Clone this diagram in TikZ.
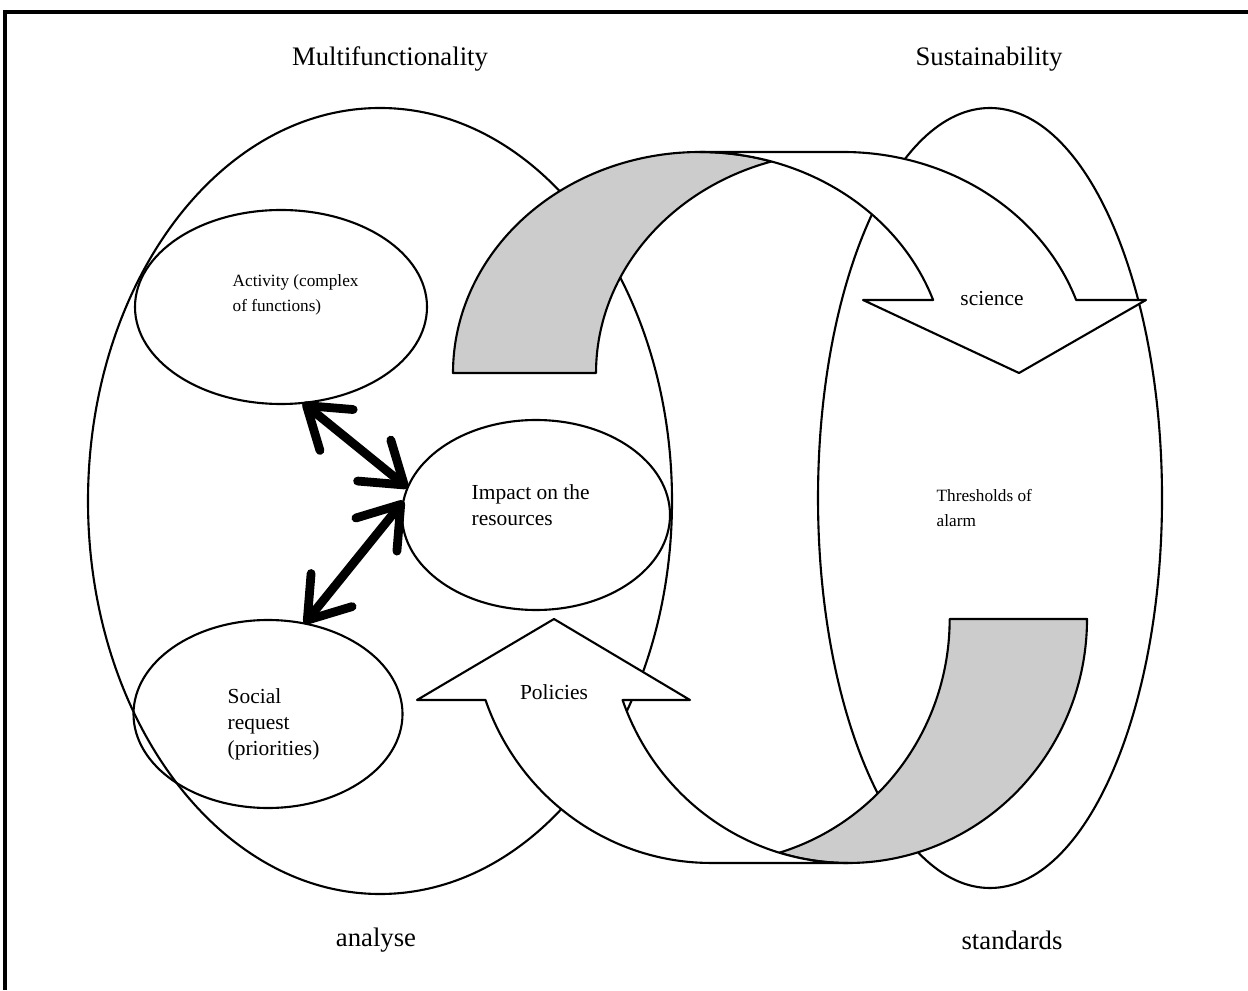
\documentclass[tikz,border=0pt]{standalone}
\usepackage{fontspec}
\setmainfont{Liberation Serif}
\usepackage{tikz}
\usetikzlibrary{shapes.geometric,arrows.meta}

\begin{document}
\begin{tikzpicture}
\tikzstyle{every node}=[inner sep=0pt,font=\fontsize{6.1}{7.4}\selectfont];
\tikzstyle{oval}=[draw,shape=ellipse,line width=0.6pt,inner sep=0pt,outer sep=0pt];
\tikzstyle{title}=[font=\fontsize{7.6}{9}\selectfont];
\tikzstyle{small}=[font=\fontsize{4.9}{7.2}\selectfont];
\tikzstyle{band}=[draw,line width=0.6pt,line join=round];
\tikzstyle{twoway}=[line width=2.5pt,line cap=round,>={Straight Barb[length=11pt,width=15pt,round]},<->];
\useasboundingbox (0,0) rectangle (12.48,9.90);

% frame: only top and left edge show
\draw[line width=0.9pt] (0.05,0)--(0.05,9.78)--(12.48,9.78);

\node[oval,minimum width=5.84cm,minimum height=7.86cm](Mf) at(3.80,4.89){};
\node[oval,minimum width=3.44cm,minimum height=7.80cm](Su) at(9.90,4.92){};

% science arrow, back part grey
\filldraw[band,fill=black!20] (4.53,6.17) arc[start angle=180,end angle=73.17,x radius=2.47,y radius=2.21]
 arc[start angle=106.83,end angle=180,x radius=2.47,y radius=2.21] -- cycle;
\filldraw[band,fill=white] (7.00,8.38)--(8.43,8.38) arc[start angle=90,end angle=19.3,x radius=2.47,y radius=2.21]
 --(11.46,6.90)--(10.19,6.17)--(8.63,6.90)--(9.331,6.90) arc[start angle=19.3,end angle=90,x radius=2.47,y radius=2.21] -- cycle;

% policies arrow
\filldraw[band,fill=black!20] (10.87,3.71) arc[start angle=360,end angle=253.3,x radius=2.39,y radius=2.44]
 arc[start angle=286.7,end angle=360,x radius=2.39,y radius=2.44] -- cycle;
\filldraw[band,fill=white] (7.11,1.27)--(8.48,1.27) arc[start angle=270,end angle=199.4,x radius=2.39,y radius=2.44]
 --(6.90,2.90)--(5.54,3.71)--(4.17,2.90)--(4.855,2.90) arc[start angle=199.4,end angle=270,x radius=2.39,y radius=2.44] -- cycle;

\node[oval,minimum width=2.92cm,minimum height=1.94cm](Act) at(2.81,6.83){};
\node[oval,minimum width=2.68cm,minimum height=1.90cm](Imp) at(5.36,4.75){};
\node[oval,minimum width=2.69cm,minimum height=1.88cm](Soc) at(2.68,2.76){};

\node[small,anchor=west,align=left](tAct) at(2.32,6.95){Activity (complex\\of functions)};
\node[anchor=west,align=left](tImp) at(4.71,4.85){Impact on the\\resources};
\node[anchor=west,align=left](tSoc) at(2.27,2.66){Social\\request\\(priorities)};
\node[small,anchor=west,align=left](tThr) at(9.36,4.82){Thresholds of\\alarm};
\node(tSci) at(9.92,6.91){science};
\node(tPol) at(5.54,2.98){Policies};

\node[title](tMf) at(3.90,9.31){Multifunctionality};
\node[title](tSu) at(9.89,9.31){Sustainability};
\node[title](tAn) at(3.76,0.50){analyse};
\node[title](tSt) at(10.12,0.50){standards};

\draw[twoway] (Act.-77)--(Imp.168);
\draw[twoway] (Imp.174)--(Soc.68);

\end{tikzpicture}
\end{document}
